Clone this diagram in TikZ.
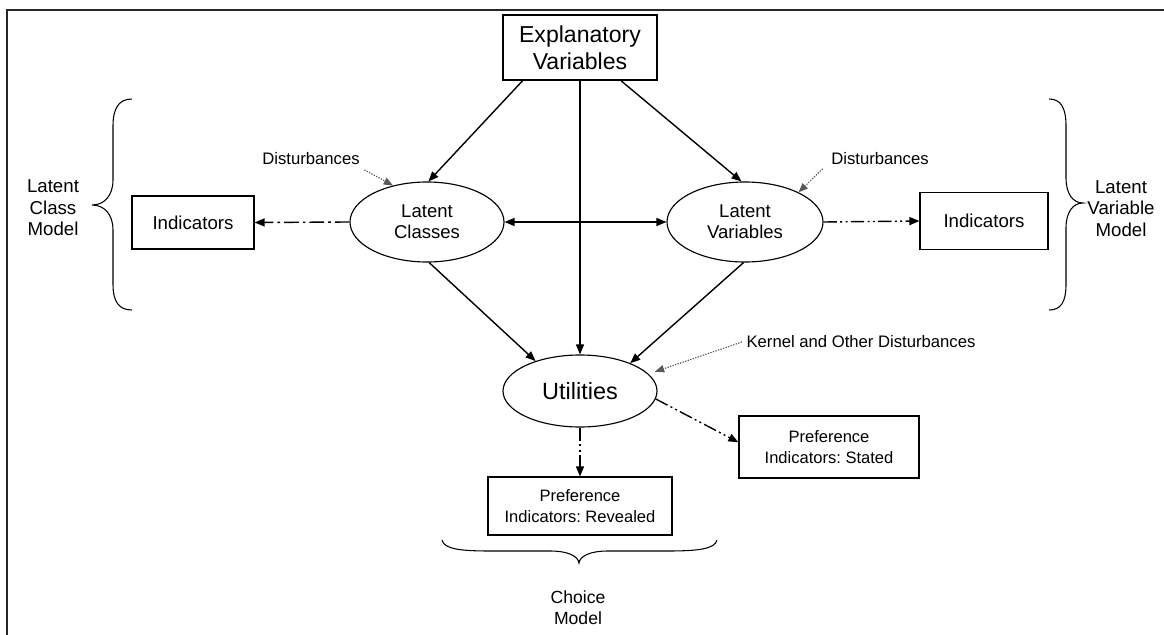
\documentclass[tikz,border=0pt]{standalone}
\usepackage{fontspec}
\setmainfont{Liberation Sans}
\usetikzlibrary{shapes.geometric,arrows.meta,calc}
% one drawing unit = 0.75pt
\newcommand{\pxl}{0.75pt}
\begin{document}
\begin{tikzpicture}[x=0.75pt,y=-0.75pt,
  tipend/.style={-{Triangle[length=7.5pt,width=6pt]}},
  solidarrow/.style={tipend, line width=1.05pt},
  twoway/.style={{Triangle[length=7.5pt,width=6pt]}-{Triangle[length=7.5pt,width=6pt]}, line width=1.05pt},
  dashdot/.style={tipend, line width=1.05pt, dash pattern=on 11pt off 3pt on 2pt off 3pt},
  dashdotdot/.style={tipend, line width=1.05pt, dash pattern=on 10pt off 2.5pt on 1.5pt off 2.5pt on 1.5pt off 2.5pt},
  noise/.style={-{Triangle[length=7pt,width=5.5pt]}, line width=0.85pt, black!65, dash pattern=on 1pt off 1pt},
  box/.style={draw, line width=0.85pt, inner sep=0pt, align=center},
  oval/.style={draw, ellipse, line width=0.85pt, inner sep=0pt, align=center},
  bigtext/.style={font=\fontsize{17.3pt}{20.25pt}\selectfont},
  midtext/.style={font=\fontsize{13.9pt}{15.75pt}\selectfont},
  indtext/.style={font=\fontsize{14pt}{16pt}\selectfont},
  smalltext/.style={font=\fontsize{12.5pt}{15pt}\selectfont},
  preftext/.style={font=\fontsize{12.4pt}{15.5pt}\selectfont},
  sidetext/.style={font=\fontsize{14pt}{16pt}\selectfont, align=center},
  brace/.style={line width=0.8pt}
]
\useasboundingbox (0,0) rectangle (1164,635);

% frame
\draw[line width=1.9pt, black!85] (7,635) -- (7,10) -- (1164,10);

% main nodes
\node[box, bigtext, minimum width=154*\pxl, minimum height=65*\pxl] (expl) at (580,47.5) {Explanatory\\Variables};
\node[oval, midtext, minimum width=154*\pxl, minimum height=80*\pxl] (lc) at (427,222) {Latent\\Classes};
\node[oval, midtext, minimum width=156*\pxl, minimum height=80*\pxl] (lv) at (745,222) {Latent\\Variables};
\node[box, indtext, minimum width=122*\pxl, minimum height=53*\pxl] (ind1) at (193,222.5) {Indicators};
\node[box, indtext, minimum width=128*\pxl, minimum height=57*\pxl] (ind2) at (984,221) {Indicators};
\node[oval, font=\fontsize{17.6pt}{20pt}\selectfont, minimum width=154*\pxl, minimum height=72*\pxl] (util) at (580,391) {Utilities};
\node[box, preftext, minimum width=180*\pxl, minimum height=62*\pxl] (prs) at (829,447) {Preference\\Indicators:\ Stated};
\node[box, preftext, minimum width=184*\pxl, minimum height=58*\pxl] (prr) at (580,506) {Preference\\Indicators:\ Revealed};

% labels
\node[smalltext] (dist1) at (311,159) {Disturbances};
\node[smalltext] (dist2) at (880,159) {Disturbances};
\node[smalltext] (kern) at (861,342) {Kernel and Other Disturbances};
\node[sidetext] (lcm) at (53,208) {Latent\\Class\\Model};
\node[sidetext] (lvm) at (1121,208.5) {Latent\\Variable\\Model};
\node[sidetext, font=\fontsize{13.2pt}{15.5pt}\selectfont] (cm) at (578,607.5) {Choice\\Model};

% structural arrows
\draw[solidarrow] (expl.-150) -- (lc.88);
\draw[solidarrow] (expl.-39) -- (lv.95);
\draw[solidarrow] (expl.south) -- (util.north);
\draw[twoway] (lc.east) -- (lv.west);
\draw[solidarrow] (lc.-87) -- (util.146);
\draw[solidarrow] (lv.-92) -- (util.29);

% measurement arrows
\draw[dashdot] (lc.west) -- (ind1.east);
\draw[dashdotdot] (lv.east) -- (ind2.west);
\draw[dashdotdot] (util.south) -- (prr.north);
\draw[dashdotdot] (util.-6) -- (prs.177);

% disturbance arrows
\draw[noise] (dist1.south east) -- (lc.133);
\draw[noise] ($(dist2.south west)+(-4,-1)$) -- (lv.29);
\draw[noise, shorten >=5pt] (kern.west) -- (util.14);

% braces
\draw[brace] (132,99) .. controls (119,99) and (113,108) .. (113,126) -- (113,180)
  .. controls (113,196) and (104,205) .. (92,205)
  .. controls (104,205) and (113,214) .. (113,230) -- (113,284)
  .. controls (113,302) and (119,310) .. (132,310);
\draw[brace] (1049,99) .. controls (1061,99) and (1066,108) .. (1066,126) -- (1066,178)
  .. controls (1066,194) and (1073,203) .. (1083,203)
  .. controls (1073,203) and (1066,212) .. (1066,228) -- (1066,284)
  .. controls (1066,302) and (1061,310) .. (1049,310);
\draw[brace] (442,540) .. controls (444,549) and (460,551) .. (490,551) -- (550,551)
  .. controls (568,551) and (578,556) .. (579,563)
  .. controls (580,556) and (590,551) .. (608,551) -- (668,551)
  .. controls (698,551) and (715,549) .. (717,540);
\end{tikzpicture}
\end{document}
